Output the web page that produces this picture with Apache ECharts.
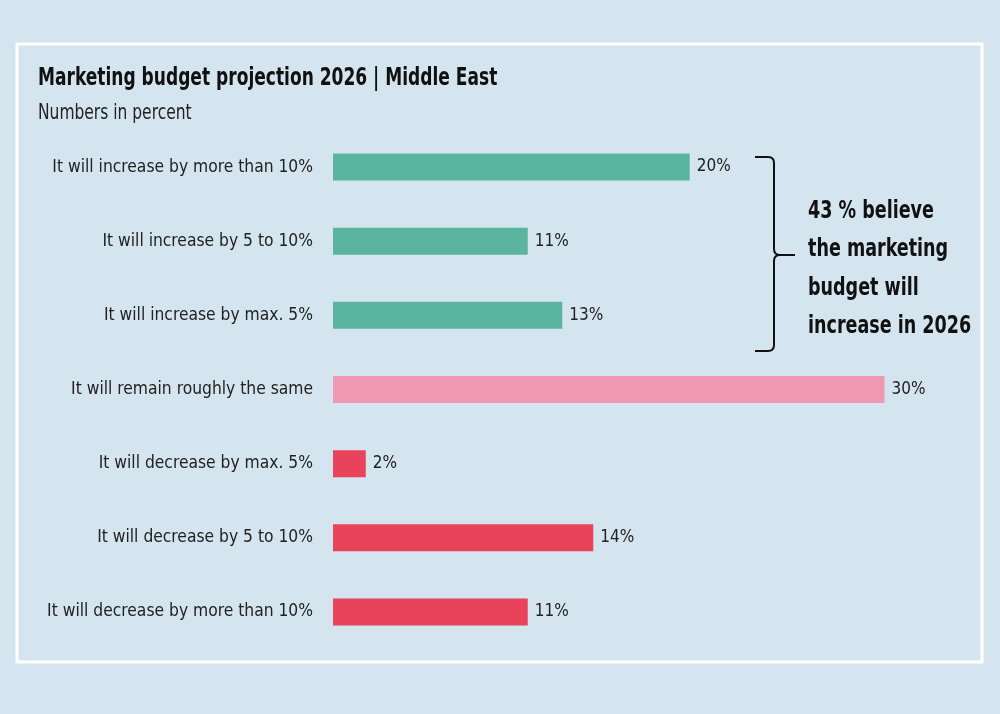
<!DOCTYPE html>
<html><head><meta charset="utf-8">
<script src="https://cdn.jsdelivr.net/npm/echarts@6/dist/echarts.min.js"></script>
<style>html,body{margin:0;padding:0;background:#d5e5f0;}#c{width:1000px;height:714px;}</style>
</head><body><div id="c"></div>
<script>
const categories = [
  "It will increase by more than 10%",
  "It will increase by 5 to 10%",
  "It will increase by max. 5%",
  "It will remain roughly the same",
  "It will decrease by max. 5%",
  "It will decrease by 5 to 10%",
  "It will decrease by more than 10%"
];
const values = [19.6, 10.7, 12.6, 30.3, 1.8, 14.3, 10.7];
const labelTexts = ["20%", "11%", "13%", "30%", "2%", "14%", "11%"];
const barColors = ["#5bb4a0", "#5bb4a0", "#5bb4a0", "#f097b2", "#e8435a", "#e8435a", "#e8435a"];
const annotationLines = ["43 % believe", "the marketing", "budget will", "increase in 2026"];
const titleText = "Marketing budget projection 2026 | Middle East";
const subtitleText = "Numbers in percent";

const FONT = "'DejaVu Sans Condensed', 'Liberation Sans Narrow', sans-serif";
const chart = echarts.init(document.getElementById('c'));
const bracketStyle = {fill: 'none', stroke: '#111', lineWidth: 2};
chart.setOption({
  backgroundColor: '#d5e5f0',
  animation: false,
  grid: {left: 333, top: 130, width: 637, height: 519, containLabel: false},
  xAxis: {type: 'value', min: 0, max: 35, show: false},
  yAxis: {
    type: 'category', data: categories, inverse: true,
    axisLine: {show: false}, axisTick: {show: false},
    axisLabel: {margin: 20, fontFamily: FONT, fontSize: 17.3, color: '#222'}
  },
  series: [{
    type: 'bar', barWidth: 27,
    data: values.map((v, i) => ({value: v, itemStyle: {color: barColors[i]}})),
    label: {show: true, position: 'right', distance: 7, fontFamily: FONT, fontSize: 17, color: '#222',
      formatter: p => labelTexts[p.dataIndex]}
  }],
  graphic: [
    {type: 'rect', shape: {x: 17, y: 44, width: 965, height: 618}, style: {fill: 'none', stroke: '#ffffff', lineWidth: 3}, silent: true, z: -1},
    {type: 'text', x: 38, y: 67, scaleX: 0.79, style: {text: titleText, fontFamily: FONT, fontSize: 24, fontWeight: 'bold', fill: '#111', verticalAlign: 'top'}},
    {type: 'text', x: 38, y: 103, scaleX: 0.82, style: {text: subtitleText, fontFamily: FONT, fontSize: 21, fill: '#222', verticalAlign: 'top'}},
    {type: 'polyline', shape: {points: [[755,157],[768,157]]}, style: bracketStyle},
    {type: 'bezierCurve', shape: {x1: 768, y1: 157, cpx1: 774, cpy1: 157, x2: 774, y2: 163}, style: bracketStyle},
    {type: 'polyline', shape: {points: [[774,163],[774,249]]}, style: bracketStyle},
    {type: 'bezierCurve', shape: {x1: 774, y1: 249, cpx1: 774, cpy1: 255, x2: 780, y2: 255}, style: bracketStyle},
    {type: 'polyline', shape: {points: [[780,255],[795,255]]}, style: bracketStyle},
    {type: 'bezierCurve', shape: {x1: 780, y1: 255, cpx1: 774, cpy1: 255, x2: 774, y2: 261}, style: bracketStyle},
    {type: 'polyline', shape: {points: [[774,261],[774,345]]}, style: bracketStyle},
    {type: 'bezierCurve', shape: {x1: 774, y1: 345, cpx1: 774, cpy1: 351, x2: 768, y2: 351}, style: bracketStyle},
    {type: 'polyline', shape: {points: [[768,351],[755,351]]}, style: bracketStyle},
    {type: 'text', x: 808, y: 192, scaleX: 0.78, style: {text: annotationLines.join('\n'), fontFamily: FONT, fontSize: 25, fontWeight: 'bold', lineHeight: 38.5, fill: '#111', verticalAlign: 'top'}}
  ]
});
</script></body></html>
